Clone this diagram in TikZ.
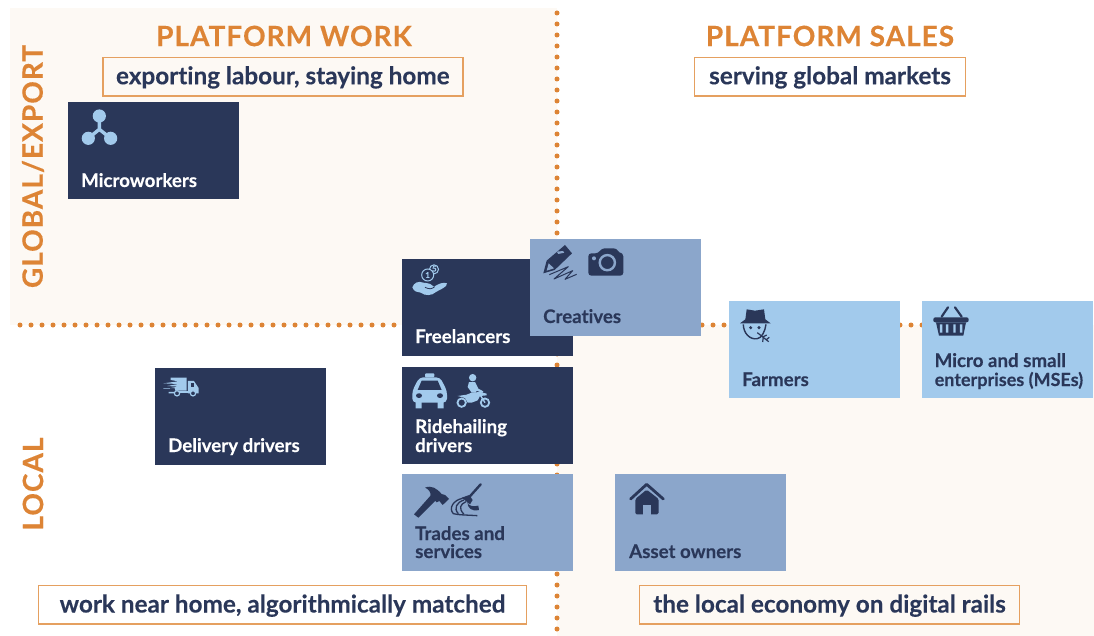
\documentclass[tikz,border=0pt]{standalone}
\usepackage{fontspec}
\setmainfont{Lato}[BoldFont={Lato Bold},BoldFeatures={FakeBold=0.2},Ligatures=NoCommon]
\newfontfamily\headfont{Lato Bold}[LetterSpace=3.6,FakeBold=0.25]
\definecolor{navy}{HTML}{2A3759}
\definecolor{midblue}{HTML}{8BA6CB}
\definecolor{lightblue}{HTML}{A2CAEC}
\definecolor{orange}{HTML}{DD8435}
\definecolor{boxline}{HTML}{E5A060}
\definecolor{cream}{HTML}{FDF9F4}
\tikzset{
  cardbox/.style={rectangle,inner sep=0pt,minimum width=171pt,minimum height=97pt,anchor=north west},
  darkcard/.style={cardbox,fill=navy},
  midcard/.style={cardbox,fill=midblue},
  lightcard/.style={cardbox,fill=lightblue},
  cardlabel/.style={anchor=base west,inner sep=0pt,font=\fontsize{18.7}{18.7}\selectfont\bfseries,align=left},
  heading/.style={text=orange,inner sep=0pt,font=\fontsize{28}{28}\headfont},
  taglabel/.style={draw=boxline,line width=1.5pt,text=navy,inner sep=0pt,minimum height=38.5pt,text height=20pt,text depth=4pt,font=\fontsize{24.3}{24.3}\selectfont\bfseries},
  toptag/.style={taglabel,text depth=5.5pt},
  dotline/.style={orange,line width=5pt,line cap=round,dash pattern=on 0pt off 11pt},
  zoomed/.style={x=0.3333pt,y=-0.3333pt},
}
\begin{document}
\begin{tikzpicture}[x=1pt,y=-1pt]
\useasboundingbox (0,0) rectangle (1094,636);
\fill[white] (0,0) rectangle (1094,636);
\fill[cream] (10,8) rectangle (557,325);
\fill[cream] (557,325) rectangle (1094,636);
\coordinate (hstart) at (20,325);
\coordinate (hend) at (1094,325);
\coordinate (vstart) at (557,13);
\coordinate (vend) at (557,636);
\draw[dotline] (hstart) -- (hend);
\draw[dotline] (vstart) -- (vend);

\node[heading,anchor=center] (hwork) at (284,36) {PLATFORM WORK};
\node[heading,anchor=center] (hsales) at (830,36) {PLATFORM SALES};
\node[heading,anchor=center,rotate=90] (hglobal) at (33,166.5) {GLOBAL/EXPORT};
\node[heading,anchor=center,rotate=90] (hlocal) at (33,484) {LOCAL};

\node[toptag,minimum width=360pt] (texport) at (282.8,77) {exporting labour, staying home};
\node[toptag,minimum width=271pt] (tserve) at (830,77) {serving global markets};
\node[taglabel,minimum width=488pt] (twork) at (282.5,604.5) {work near home, algorithmically matched};
\node[taglabel,minimum width=380pt] (tlocal) at (829.5,604.5) {the local economy on digital rails};

\node[darkcard] (micro) at (68,102) {};
\node[darkcard] (free) at (402,259) {};
\node[midcard] (creat) at (530,239) {};
\node[lightcard] (farm) at (729,301) {};
\node[lightcard] (mse) at (922,301) {};
\node[darkcard] (deliv) at (155,368) {};
\node[darkcard] (ride) at (402,367) {};
\node[midcard] (trade) at (402,474) {};
\node[midcard] (asset) at (615,474) {};

\node[cardlabel,text=white] (lmicro) at (81,187) {Microworkers};
\node[cardlabel,text=white] (lfree) at (415,343) {Freelancers};
\node[cardlabel,text=navy] (lcreat) at (543,323) {Creatives};
\node[cardlabel,text=navy] (lfarm) at (742,386) {Farmers};
\node[cardlabel,text=navy] (lmse1) at (934.5,367) {Micro and small};
\node[cardlabel,text=navy,font=\fontsize{18}{18}\selectfont\bfseries] (lmse2) at (934.5,386) {enterprises (MSEs)};
\node[cardlabel,text=white] (ldeliv) at (168,452) {Delivery drivers};
\node[cardlabel,text=white] (lride1) at (415,433) {Ridehailing};
\node[cardlabel,text=white] (lride2) at (415,452) {drivers};
\node[cardlabel,text=navy] (ltrade1) at (415,540) {Trades and};
\node[cardlabel,text=navy] (ltrade2) at (415,558) {services};
\node[cardlabel,text=navy] (lasset) at (629,558) {Asset owners};

% Microworkers icon (zoom 1 coordinates)
\begin{scope}[zoomed]
  \draw[lightblue,line width=3.4pt] (298,348) -- (298,388) -- (265,415) (298,388) -- (332,415);
  \fill[lightblue] (298,348) circle (6.6pt) (265,415) circle (6.6pt) (332,415) circle (6.6pt);
\end{scope}

% Freelancer, taxi, pencil, camera (zoom 2 coordinates)
\begin{scope}[shift={(390,230)},zoomed]
  % coins
  \draw[lightblue,line width=1pt,fill=navy] (132,118) circle (4.5pt);
  \draw[lightblue,line width=1pt,fill=navy] (113,135) circle (6pt);
  \node[text=lightblue,inner sep=0pt,font=\fontsize{8}{8}\selectfont\bfseries] (coinb) at (133,116) {5};
  \node[text=lightblue,inner sep=0pt,font=\fontsize{8}{8}\selectfont\bfseries] (coina) at (113,135) {1};
  % hand
  \fill[lightblue] (67,172) .. controls (72,158) and (85,152) .. (100,158)
    .. controls (118,160) and (125,162) .. (132,170) .. controls (145,162) and (160,155) .. (171,160)
    .. controls (172,172) and (150,178) .. (138,186) .. controls (125,198) and (105,198) .. (92,188)
    .. controls (82,186) and (72,186) .. (67,172) -- cycle;
  \draw[navy,line width=0.8pt] (105,172) .. controls (118,178) and (125,178) .. (134,170);
  % taxi
  \fill[lightblue,rounded corners=1pt] (105,430) rectangle (133,442);
  \fill[lightblue,rounded corners=4pt] (88,442) -- (150,442) -- (171,482) -- (171,518) -- (67,518) -- (67,482) -- cycle;
  \fill[lightblue] (77,515) rectangle (95,535) (143,515) rectangle (161,535);
  \fill[navy] (95,452) -- (143,452) -- (155,480) -- (83,480) -- cycle;
  \fill[navy] (87,497) ellipse (3pt and 2.4pt) (150,497) ellipse (3pt and 2.4pt);
  % pencil
  \fill[navy] (460,130) -- (470,92) -- (525,45) -- (546,70) -- (494,120) -- cycle;
  \fill[midblue] (500,65) -- (519,63) -- (523,68) -- (505,72) -- cycle;
  \fill[midblue] (470,122) -- (476,100) -- (492,115) -- cycle;
  \draw[navy,line width=1pt,line join=round] (478,134) -- (535,110) -- (492,147) -- (548,122) -- (525,148) -- (560,133);
  % camera
  \fill[navy,rounded corners=3pt] (595,70) -- (625,70) -- (635,55) -- (680,55) -- (688,70) -- (700,70) -- (700,137) -- (595,137) -- cycle;
  \draw[midblue,line width=2.4pt] (652,98) circle (7.6pt);
  \fill[midblue] (612,85) circle (2pt);
\end{scope}

% Motorbike
\begin{scope}[shift={(455,372)},zoomed]
  \draw[lightblue,line width=1.8pt] (20,92) circle (4.2pt) (90,92) circle (4.2pt);
  \fill[lightblue] (53,17) circle (3.7pt);
  \fill[lightblue] (42,30) -- (60,30) -- (70,50) -- (85,58) -- (82,63) -- (65,56) -- (62,62) -- (50,62) -- (38,45) -- cycle;
  \fill[lightblue] (8,72) -- (35,68) -- (50,62) -- (75,60) -- (95,65) -- (95,70) -- (75,72) -- (68,85) -- (50,92) -- (38,92) -- (30,78) -- cycle;
  \draw[lightblue,line width=1.4pt] (75,68) -- (90,92);
\end{scope}

% Farmer and basket (zoom 3 coordinates)
\begin{scope}[shift={(720,290)},zoomed]
  \fill[navy] (60,100) -- (76,88) -- (80,58) -- (105,62) -- (132,58) -- (136,88) -- (152,100) -- cycle;
  \draw[navy,line width=1.4pt] (70,103) .. controls (70,130) and (90,150) .. (112,146)
     .. controls (125,144) and (135,125) .. (138,103);
  \fill[navy] (92,113) circle (1.7pt) (117,113) circle (1.7pt);
  \draw[navy,line width=1.2pt] (112,128) -- (146,155) (130,140) -- (140,135) (130,140) -- (128,156) (140,148) -- (148,142);
  % basket
  \draw[navy,line width=2.2pt,line cap=round] (665,80) -- (684,52) (725,80) -- (705,52);
  \fill[navy,rounded corners=2pt] (640,82) rectangle (746,97);
  \fill[navy] (648,97) -- (738,97) -- (730,137) -- (657,137) -- cycle;
  \fill[lightblue] (660,103) rectangle (667,128) (678,103) rectangle (685,128) (700,103) rectangle (707,128) (720,103) rectangle (727,128);
\end{scope}

% Hammer, mop, house (zoom 4 coordinates)
\begin{scope}[shift={(390,465)},zoomed]
  \fill[navy] (72,148) -- (125,88) -- (140,103) -- (85,158) -- cycle;
  \fill[navy] (105,68) .. controls (125,60) and (140,70) .. (155,87) -- (165,90) -- (177,102) -- (158,120) -- (148,108) -- (140,112) -- (122,92) .. controls (122,80) and (115,72) .. (105,68) -- cycle;
  \draw[navy,line width=2.4pt,line cap=round] (238,96) -- (272,58);
  \fill[navy] (215,98) -- (238,90) -- (248,105) -- (240,118) -- cycle;
  \draw[navy,line width=1.3pt] (218,100) .. controls (190,105) and (175,130) .. (190,146) .. controls (205,150) and (230,150) .. (262,152);
  \draw[navy,line width=1.3pt] (222,105) .. controls (200,112) and (190,130) .. (205,146);
  \draw[navy,line width=1.3pt] (228,110) .. controls (210,118) and (205,130) .. (222,148);
  \fill[navy] (232,110) .. controls (235,125) and (250,125) .. (265,122) -- (267,135) .. controls (245,140) and (232,130) .. (232,110) -- cycle;
  % house
  \draw[navy,line width=2.8pt,line cap=round,line join=round] (722,102) -- (770,58) -- (820,102);
  \fill[navy,rounded corners=1.5pt] (736,102) -- (770,74) -- (806,102) -- (806,148) -- (736,148) -- cycle;
  \fill[midblue] (758,120) rectangle (783,149);
\end{scope}

% Delivery truck (zoom 5 coordinates)
\begin{scope}[shift={(150,360)},zoomed]
  \fill[lightblue] (62,53) -- (110,53) -- (110,92) -- (75,92) -- (75,86) -- (90,86) -- (62,84) -- (85,80) -- (52,78) -- (85,72) -- (40,70) -- (85,64) -- (62,60) -- cycle;
  \fill[lightblue] (114,63) -- (132,63) -- (146,84) -- (146,100) -- (114,100) -- cycle;
  \fill[navy] (122,69) rectangle (131,81);
  \fill[lightblue] (56,96) rectangle (72,100) (40,85) rectangle (60,87);
  \fill[lightblue] (75,93) rectangle (118,100);
  \draw[lightblue,line width=1.2pt,fill=navy] (81,100) circle (2.6pt) (129,100) circle (2.6pt);
\end{scope}
\end{tikzpicture}
\end{document}
